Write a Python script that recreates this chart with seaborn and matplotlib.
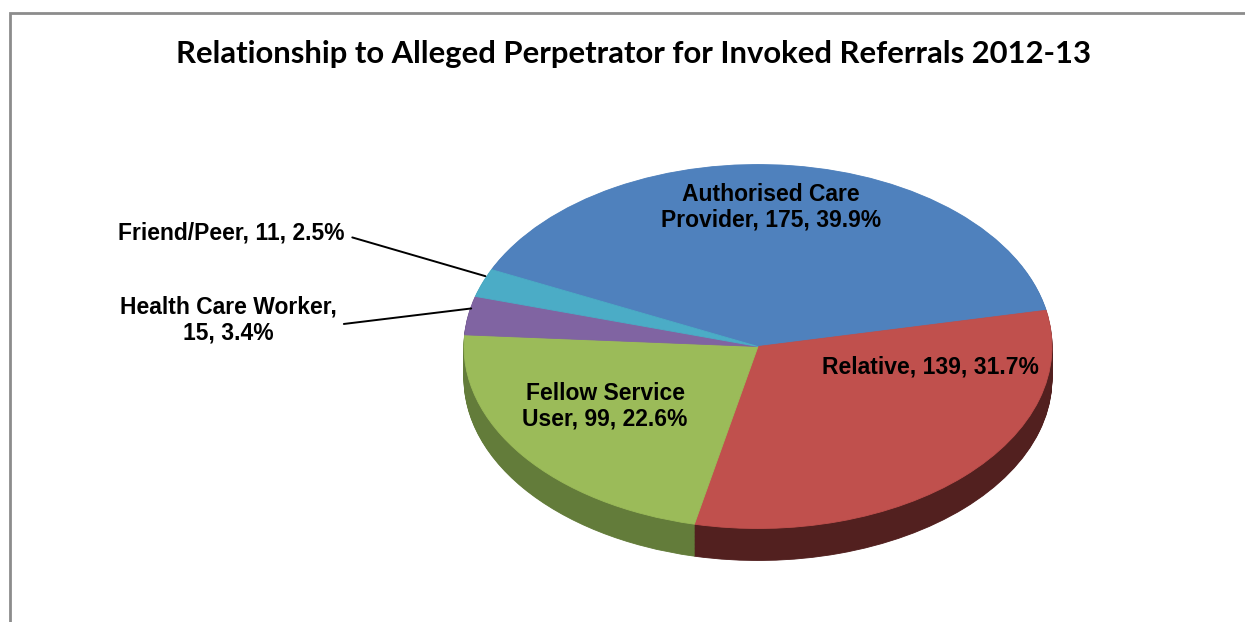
import textwrap
import numpy as np
import seaborn as sns
import matplotlib.pyplot as plt
from matplotlib.patches import Rectangle

sns.set_theme(style="white")
plt.rcParams['font.family'] = ['Liberation Sans', 'DejaVu Sans']

# data
categories = ["Authorised Care Provider", "Relative", "Fellow Service User",
              "Health Care Worker", "Friend/Peer"]
counts = [175, 139, 99, 15, 11]
top_colors = ["#4F81BD", "#C0504D", "#9BBB59", "#8064A2", "#4BACC6"]
side_colors = ["#2E4C70", "#52201F", "#637C3A", "#4B3A60", "#2C6777"]
wrap_width = [20, 0, 15, 19, 0]

W, H = 1245, 622
fig = plt.figure(figsize=(12.45, 6.22), dpi=100)
ax = fig.add_axes([0, 0, 1, 1])

# pie is a unit circle in data space, squashed to an ellipse by the limits
cx, cy, rx, ry = 758, 346.5, 294, 182
depth = 32 / ry
start = 155


def same_edge(ws):
    for w in ws:
        w.set_edgecolor(w.get_facecolor())
        w.set_linewidth(0.6)


# side of the 3d pie: stack darker copies downwards
for off in np.linspace(-depth, 0, 40, endpoint=False):
    side, _ = ax.pie(counts, colors=side_colors, startangle=start, counterclock=False,
                     center=(0, off), radius=1)
    same_edge(side)

wedges, _ = ax.pie(counts, colors=top_colors, startangle=start, counterclock=False,
                   center=(0, 0), radius=1)
same_edge(wedges)

ax.set_aspect("auto")
ax.set_xlim(-cx / rx, (W - cx) / rx)
ax.set_ylim((cy - H) / ry, cy / ry)
ax.axis("off")

total = sum(counts)
labels = []
for cat, n, w in zip(categories, counts, wrap_width):
    s = f"{cat}, {n}, {100 * n / total:.1f}%"
    labels.append(textwrap.fill(s, w) if w else s)


def px(x, y):
    return x / W, 1 - y / H


lab_kw = dict(fontsize=16.5, fontweight="bold", color="black", linespacing=1.15)

# labels inside the slices
inside_pos = [(771, 207), (930, 367), (605, 406)]
for lab, (x, y) in zip(labels[:3], inside_pos):
    fig.text(*px(x, y), lab, ha="center", va="center", **lab_kw)

# outside labels with leader lines
outside_pos = [(228, 320), (345, 233)]
outside_ha = ["center", "right"]
for i, (x, y), ha in zip([3, 4], outside_pos, outside_ha):
    w = wedges[i]
    mid = np.deg2rad((w.theta1 + w.theta2) / 2)
    ax.annotate(labels[i], xy=(np.cos(mid) * 0.99, np.sin(mid) * 0.99 + 0.04),
                xytext=px(x, y), textcoords="figure fraction",
                ha=ha, va="center", **lab_kw,
                arrowprops=dict(arrowstyle="-", color="black", lw=1.4,
                                relpos=(1.0, 0.4), shrinkA=3, shrinkB=0))

fig.text(*px(634, 54), "Relationship to Alleged Perpetrator for Invoked Referrals 2012-13",
         ha="center", va="center", fontsize=22.3, fontweight="bold", color="black",
         family=["Lato", "DejaVu Sans"])

# chart area border (runs off the right and bottom edges)
fig.patches.append(Rectangle((10 / W, -0.1), 1.2, 1.1 - 13 / H, transform=fig.transFigure,
                             fill=False, edgecolor="#8C8C8C", linewidth=2, clip_on=False))

fig.savefig("out.png", dpi=100)
